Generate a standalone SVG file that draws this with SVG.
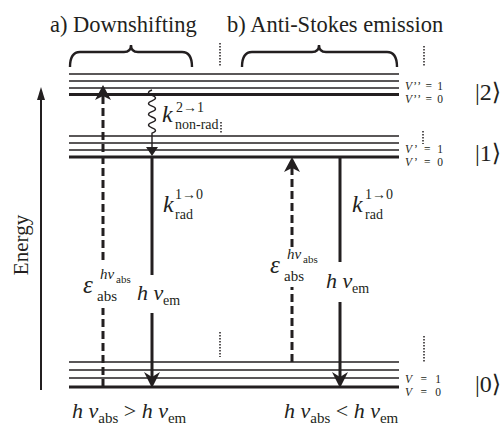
<svg xmlns="http://www.w3.org/2000/svg" width="503" height="430" viewBox="0 0 503 430">
<style>
text{font-family:"Liberation Serif","DejaVu Serif",serif;fill:#231f20}
.it{font-style:italic}
.thin{stroke:#231f20;stroke-width:1.4;fill:none}
.thick{stroke:#231f20;stroke-width:3.2;fill:none}
.dash{stroke:#231f20;stroke-width:3;stroke-dasharray:8 4;fill:none}
.sol{stroke:#231f20;stroke-width:3;fill:none}
.dot{stroke:#231f20;stroke-width:1.5;stroke-dasharray:1.5 1.5;fill:none}
.brace{stroke:#231f20;stroke-width:2.4;fill:none}
.head{fill:#231f20;stroke:none}
.vl{font-size:11.5px}
.ket{font-size:24px}
</style>
<rect width="503" height="430" fill="#fff"/>
<g id="titles">
<text x="50" y="32" font-size="22.5">a) Downshifting</text>
<text x="227" y="32" font-size="22.5">b) Anti-Stokes emission</text>
</g>
<g id="braces">
<path class="brace" d="M70,67 Q70,52 80,52 L124,52 Q131,52 131,45 Q131,52 138,52 L182,52 Q192,52 192,67"/>
<path class="brace" d="M242,67 Q242,52 252,52 L312,52 Q319,52 319,45 Q319,52 326,52 L387,52 Q397,52 397,67"/>
</g>
<g id="dots">
<line class="dot" x1="220" y1="43" x2="220" y2="67"/>
<line class="dot" x1="221" y1="122" x2="221" y2="133"/>
<line class="dot" x1="220" y1="332" x2="220" y2="357"/>
<line class="dot" x1="424" y1="46" x2="424" y2="67"/>
<line class="dot" x1="423" y1="131" x2="423" y2="144"/>
<line class="dot" x1="424" y1="336" x2="424" y2="362"/>
</g>
<g id="energy">
<line x1="41" y1="98" x2="41" y2="390" stroke="#231f20" stroke-width="2"/>
<path class="head" d="M41,87 L45,100 L37,100 Z"/>
<text transform="translate(28,245) rotate(-90)" font-size="21" text-anchor="middle">Energy</text>
</g>
<g id="state2">
<line class="thin" x1="69" y1="74" x2="399" y2="74"/>
<line class="thin" x1="69" y1="81" x2="399" y2="81"/>
<line class="thin" x1="69" y1="88" x2="399" y2="88"/>
<line class="thick" x1="69" y1="94.5" x2="399" y2="94.5"/>
<text class="vl" x="405" y="90" textLength="38" lengthAdjust="spacing"><tspan class="it">V</tspan>’’ = 1</text>
<text class="vl" x="405" y="103" textLength="38" lengthAdjust="spacing"><tspan class="it">V</tspan>’’ = 0</text>
<text class="ket" x="475" y="100">|2⟩</text>
</g>
<g id="state1">
<line class="thin" x1="69" y1="136" x2="399" y2="136"/>
<line class="thin" x1="69" y1="143" x2="399" y2="143"/>
<line class="thin" x1="69" y1="150" x2="399" y2="150"/>
<line class="thick" x1="69" y1="157" x2="399" y2="157"/>
<text class="vl" x="405" y="153" textLength="38" lengthAdjust="spacing"><tspan class="it">V</tspan>’ = 1</text>
<text class="vl" x="405" y="166" textLength="38" lengthAdjust="spacing"><tspan class="it">V</tspan>’ = 0</text>
<text class="ket" x="475" y="161">|1⟩</text>
</g>
<g id="state0">
<line class="thin" x1="69" y1="362" x2="399" y2="362"/>
<line class="thin" x1="69" y1="370" x2="399" y2="370"/>
<line class="thin" x1="69" y1="378" x2="399" y2="378"/>
<line class="thick" x1="69" y1="387" x2="399" y2="387"/>
<text class="vl" x="405" y="383" textLength="36" lengthAdjust="spacing"><tspan class="it">V</tspan> = 1</text>
<text class="vl" x="405" y="396" textLength="36" lengthAdjust="spacing"><tspan class="it">V</tspan> = 0</text>
<text class="ket" x="475" y="392">|0⟩</text>
</g>
<g id="connectors">
<line class="dash" x1="103" y1="387" x2="103" y2="308"/>
<line class="dash" x1="103" y1="260" x2="103" y2="96"/>
<path class="head" d="M103,85 L111,100 L103,96 L95,100 Z"/>
<path class="thin" d="M152,90 q-7,2.7 0,5.4 q7,2.7 0,5.4 q-7,2.7 0,5.4 q7,2.7 0,5.4 q-7,2.7 0,5.4 q7,2.7 0,5.4 q-7,2.7 0,5.4 q7,2.7 0,5.4 L152,148"/>
<path class="head" d="M146,147 L158,147 L152,156 Z"/>
<line class="sol" x1="152" y1="157" x2="152" y2="275"/>
<line class="sol" x1="152" y1="313" x2="152" y2="378"/>
<path class="head" d="M152,388 L144,372 L152,377 L160,372 Z"/>
<line class="dash" x1="292" y1="362" x2="292" y2="287"/>
<line class="dash" x1="292" y1="247" x2="292" y2="168"/>
<path class="head" d="M292,157 L300,172 L292,168 L284,172 Z"/>
<line class="sol" x1="340" y1="157" x2="340" y2="262"/>
<line class="sol" x1="340" y1="302" x2="340" y2="378"/>
<path class="head" d="M340,388 L332,372 L340,377 L348,372 Z"/>
</g>
<g id="labels-a">
<text><tspan x="162" y="122" font-size="24" class="it">k</tspan><tspan x="176" y="112" font-size="14">2→1</tspan><tspan x="175" y="129" font-size="14">non-rad</tspan></text>
<text><tspan x="163" y="212" font-size="24" class="it">k</tspan><tspan x="175" y="199" font-size="14">1→0</tspan><tspan x="175" y="219" font-size="14">rad</tspan></text>
<text><tspan x="83" y="293" font-size="25" class="it">ε</tspan><tspan x="97" y="301" font-size="15">abs</tspan><tspan x="100" y="279" font-size="15" class="it">hν</tspan><tspan x="116" y="283" font-size="11">abs</tspan></text>
<text><tspan x="137" y="300" font-size="22" class="it">h ν</tspan><tspan x="163" y="305" font-size="14">em</tspan></text>
</g>
<g id="labels-b">
<text><tspan x="352" y="212" font-size="24" class="it">k</tspan><tspan x="365" y="199" font-size="14">1→0</tspan><tspan x="365" y="219" font-size="14">rad</tspan></text>
<text><tspan x="270" y="273" font-size="25" class="it">ε</tspan><tspan x="284" y="281" font-size="15">abs</tspan><tspan x="287" y="259" font-size="15" class="it">hν</tspan><tspan x="303" y="263" font-size="11">abs</tspan></text>
<text><tspan x="326" y="288" font-size="22" class="it">h ν</tspan><tspan x="352" y="293" font-size="14">em</tspan></text>
</g>
<g id="bottom">
<text x="72" y="418" font-size="22"><tspan class="it">h ν</tspan><tspan font-size="15" dy="5">abs</tspan><tspan dy="-5"> &gt; </tspan><tspan class="it">h ν</tspan><tspan font-size="15" dy="5">em</tspan></text>
<text x="284" y="418" font-size="22"><tspan class="it">h ν</tspan><tspan font-size="15" dy="5">abs</tspan><tspan dy="-5"> &lt; </tspan><tspan class="it">h ν</tspan><tspan font-size="15" dy="5">em</tspan></text>
</g>
</svg>
